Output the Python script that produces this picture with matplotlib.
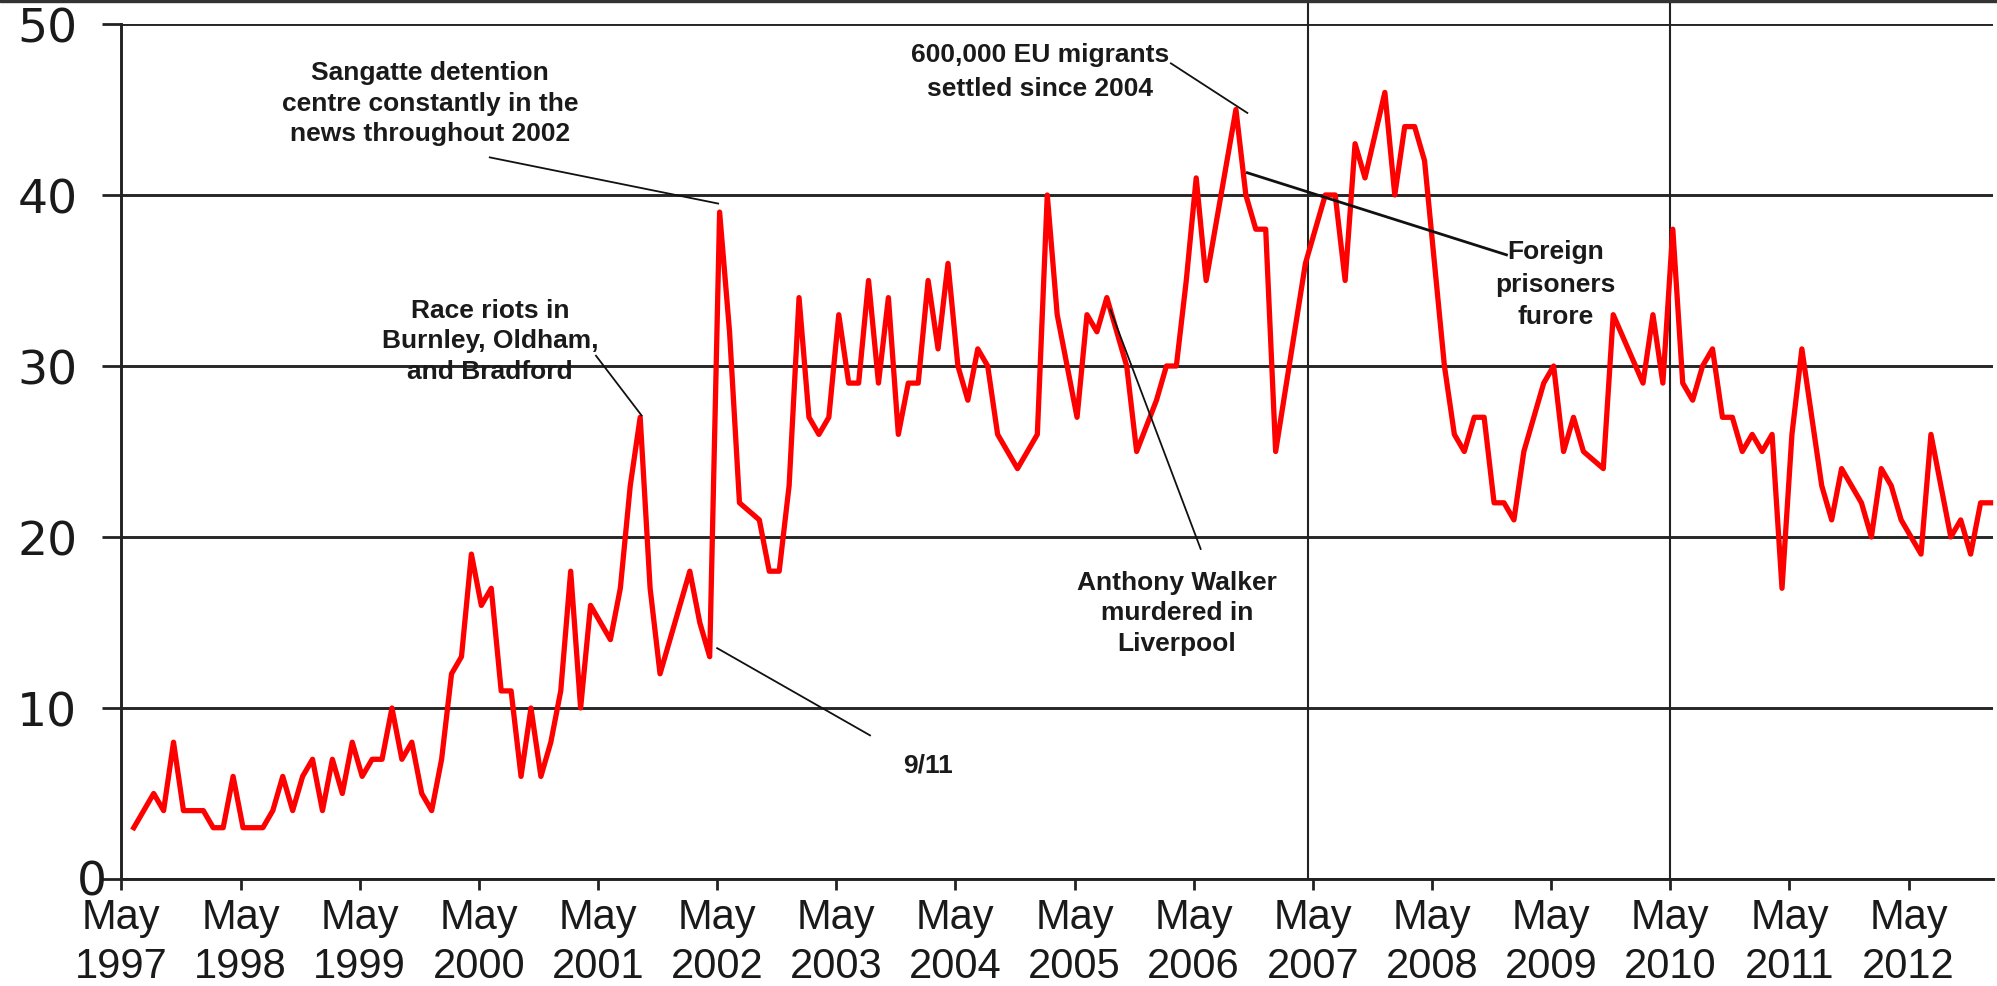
import matplotlib
matplotlib.use("Agg")
import matplotlib.pyplot as plt
import matplotlib.transforms as mtransforms
from matplotlib.patches import Rectangle

# ---------------- data ----------------
dates = [
    "1997-06", "1997-07", "1997-08", "1997-09", "1997-10", "1997-11", "1997-12",
    "1998-01", "1998-02", "1998-03", "1998-04", "1998-05", "1998-06", "1998-07",
    "1998-08", "1998-09", "1998-10", "1998-11", "1998-12",
    "1999-01", "1999-02", "1999-03", "1999-04", "1999-05", "1999-06", "1999-07",
    "1999-08", "1999-09", "1999-10", "1999-11", "1999-12",
    "2000-01", "2000-02", "2000-03", "2000-04", "2000-05", "2000-06", "2000-07",
    "2000-08", "2000-09", "2000-10", "2000-11", "2000-12",
    "2001-01", "2001-02", "2001-03", "2001-04", "2001-06", "2001-07", "2001-08",
    "2001-09", "2001-10", "2001-11",
    "2002-02", "2002-03", "2002-04", "2002-05", "2002-06", "2002-07", "2002-09",
    "2002-10", "2002-11", "2002-12",
    "2003-01", "2003-02", "2003-03", "2003-04", "2003-05", "2003-06", "2003-07",
    "2003-08", "2003-09", "2003-10", "2003-11", "2003-12",
    "2004-01", "2004-02", "2004-03", "2004-04", "2004-05", "2004-06", "2004-07",
    "2004-08", "2004-09", "2004-10", "2004-11",
    "2005-01", "2005-02", "2005-03", "2005-04", "2005-05", "2005-06", "2005-07",
    "2005-08", "2005-09", "2005-10", "2005-11",
    "2006-01", "2006-02", "2006-03", "2006-04", "2006-05", "2006-06", "2006-09",
    "2006-10", "2006-11", "2006-12",
    "2007-01", "2007-04", "2007-06", "2007-07", "2007-08", "2007-09", "2007-10",
    "2007-12",
    "2008-01", "2008-02", "2008-03", "2008-04", "2008-06", "2008-07", "2008-08",
    "2008-09", "2008-10", "2008-11", "2008-12",
    "2009-01", "2009-02", "2009-04", "2009-05", "2009-06", "2009-07", "2009-08",
    "2009-10", "2009-11",
    "2010-02", "2010-03", "2010-04", "2010-05", "2010-06", "2010-07", "2010-08",
    "2010-09", "2010-10", "2010-11", "2010-12",
    "2011-01", "2011-02", "2011-03", "2011-04", "2011-05", "2011-06", "2011-07",
    "2011-08", "2011-09", "2011-10", "2011-11", "2011-12",
    "2012-01", "2012-02", "2012-03", "2012-04", "2012-06", "2012-07", "2012-09",
    "2012-10", "2012-11", "2012-12",
    "2013-01",
]
values = [
    3, 4, 5, 4, 8, 4, 4,
    4, 3, 3, 6, 3, 3, 3,
    4, 6, 4, 6, 7,
    4, 7, 5, 8, 6, 7, 7,
    10, 7, 8, 5, 4,
    7, 12, 13, 19, 16, 17, 11,
    11, 6, 10, 6, 8,
    11, 18, 10, 16, 14, 17, 23,
    27, 17, 12,
    18, 15, 13, 39, 32, 22, 21,
    18, 18, 23,
    34, 27, 26, 27, 33, 29, 29,
    35, 29, 34, 26, 29,
    29, 35, 31, 36, 30, 28, 31,
    30, 26, 25, 24,
    26, 40, 33, 30, 27, 33, 32,
    34, 32, 30, 25,
    28, 30, 30, 35, 41, 35, 45,
    40, 38, 38,
    25, 36, 40, 40, 35, 43, 41,
    46,
    40, 44, 44, 42, 30, 26, 25,
    27, 27, 22, 22,
    21, 25, 29, 30, 25, 27, 25,
    24, 33,
    29, 33, 29, 38, 29, 28, 30,
    31, 27, 27, 25,
    26, 25, 26, 17, 26, 31, 27,
    23, 21, 24, 23, 22,
    20, 24, 23, 21, 19, 26, 20,
    21, 19, 22,
    22,
]

tick_years = list(range(1997, 2013))
tick_labels = [f"May\n{y}" for y in tick_years]
y_ticks = [0, 10, 20, 30, 40, 50]
event_dates = ["2007-05", "2010-05"]

# text, text centre, connector start, connector end, connector width, spacing
annotations = [
    ("Sangatte detention\ncentre constantly in the\nnews throughout 2002",
     (31.1, 45.4), (37.1, 42.2), (60.1, 39.5), 1.3, 1.35),
    ("Race riots in\nBurnley, Oldham,\nand Bradford",
     (37.1, 31.5), (47.8, 30.6), (52.4, 27.1), 1.3, 1.35),
    ("9/11", (81.2, 6.7), (60.0, 13.5), (75.4, 8.4), 1.3, 1.35),
    ("600,000 EU migrants\nsettled since 2004",
     (92.5, 47.25), (105.7, 47.7), (113.4, 44.8), 1.3, 1.55),
    ("Anthony Walker\nmurdered in\nLiverpool",
     (106.3, 15.6), (99.6, 33.3), (108.7, 19.3), 1.3, 1.35),
    ("Foreign\nprisoners\nfurore",
     (144.4, 34.8), (113.4, 41.3), (139.5, 36.5), 2.0, 1.45),
]


def month_index(d):
    y, m = map(int, d.split("-"))
    return (y - 1997) * 12 + (m - 5)


OFFSET = 0.25  # points sit slightly after the start of the month
x = [month_index(d) + OFFSET for d in dates]

# ---------------- figure ----------------
W, H = 1997, 987
fig = plt.figure(figsize=(W / 100, H / 100), dpi=100)
left_px, right_px, y0_px, y50_px = 121.4, 1993, 880, 25
ax = fig.add_axes([left_px / W, (H - y0_px) / H,
                   (right_px - left_px) / W, (y0_px - y50_px) / H])

dark = "#222222"
ax.set_xlim(0, 188.5)
ax.set_ylim(0, 50)

ax.set_yticks(y_ticks)
ax.yaxis.grid(True, color="#262626", linewidth=2.1)
ax.set_axisbelow(True)

ax.set_xticks([12 * i for i in range(len(tick_years))])
ax.set_xticklabels(tick_labels)

for s in ("top", "right"):
    ax.spines[s].set_visible(False)
for s in ("left", "bottom"):
    ax.spines[s].set_color(dark)
    ax.spines[s].set_linewidth(2.1)

ax.tick_params(axis="y", length=13.7, width=2.0, color=dark, pad=18,
               labelsize=34, labelcolor="#1a1a1a")
ax.tick_params(axis="x", length=8, width=2.0, color=dark, pad=5,
               labelsize=30, labelcolor="#1a1a1a")
for t in ax.get_yticklabels():
    t.set_fontfamily("DejaVu Sans")
# the zero label sits further right in the original
zero_lbl = ax.get_yticklabels()[0]
zero_lbl.set_transform(zero_lbl.get_transform() +
                       mtransforms.ScaledTranslation(21 / 72, 1.5 / 72,
                                                     fig.dpi_scale_trans))
for t in ax.get_xticklabels():
    t.set_fontfamily("Liberation Sans")
    t.set_linespacing(1.3)

# event vertical lines reaching the top of the image
top_frac = y0_px / (y0_px - y50_px)
for d, shift in zip(event_dates, (-0.45, 0.0)):
    ax.axvline(month_index(d) + shift, ymin=0, ymax=top_frac, color=dark,
               linewidth=1.5, clip_on=False, zorder=2)

# main series
ax.plot(x, values, color="#ff0000", linewidth=3.8, solid_joinstyle="round",
        zorder=3, clip_on=False)

# annotations
ann_font = ["Liberation Sans Narrow", "Liberation Sans", "DejaVu Sans"]
for text, txy, p0, p1, lw, ls in annotations:
    ax.plot([p0[0], p1[0]], [p0[1], p1[1]], color="#111111", linewidth=lw,
            zorder=4, clip_on=False)
    ax.text(txy[0], txy[1], text, ha="center", va="center", fontsize=19,
            fontweight="bold", family=ann_font, color="#1a1a1a",
            linespacing=ls, zorder=5)

# dark band along the top edge
fig.patches.append(Rectangle((0, 1 - 3 / H), 1, 3 / H,
                             transform=fig.transFigure, color="#333333",
                             zorder=10))

fig.savefig("out.png", dpi=100, facecolor="white")
